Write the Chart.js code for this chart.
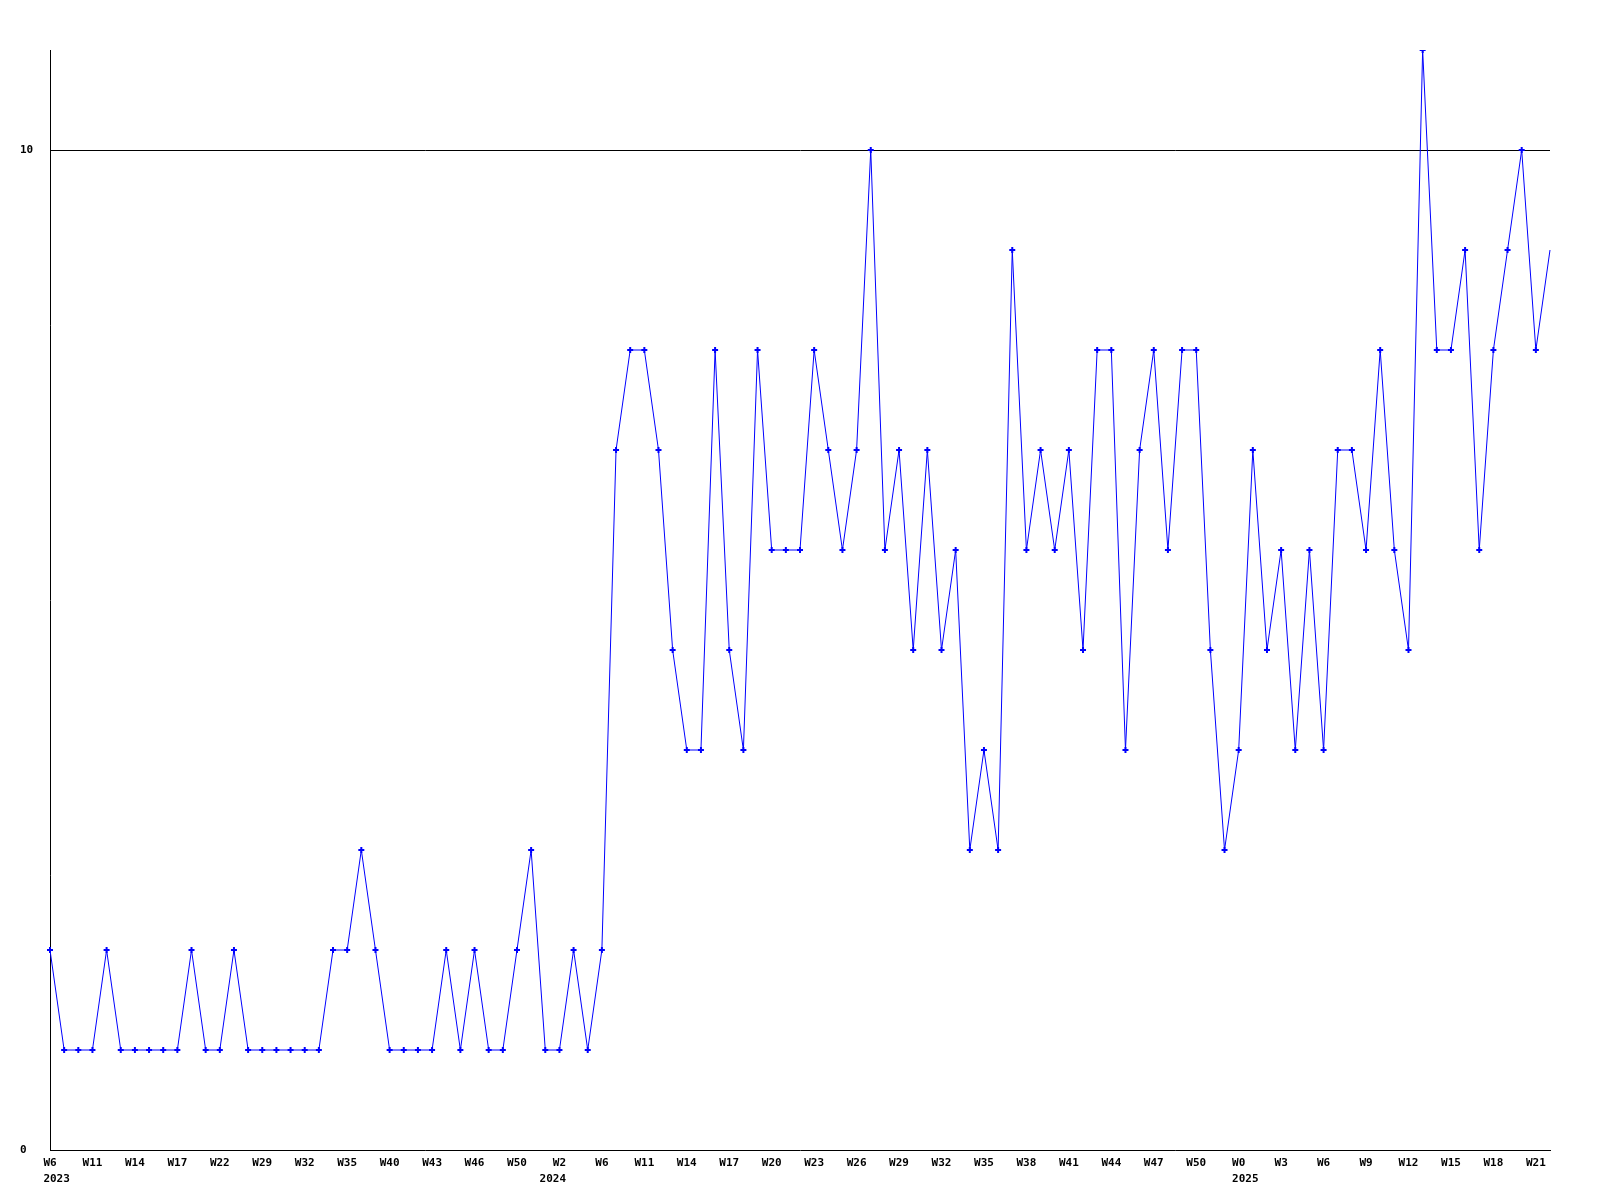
<!DOCTYPE html>
<html>
<head>
<meta charset="utf-8">
<style>
  html, body { margin: 0; padding: 0; background: #ffffff; }
  #wrap { width: 1600px; height: 1200px; }
</style>
<script src="https://cdn.jsdelivr.net/npm/chart.js@4/dist/chart.umd.min.js"></script>
</head>
<body>
<div id="wrap"><canvas id="c" width="1600" height="1200"></canvas></div>
<script>
// Weekly counts, one value per point (107 points)
const values = [
  2,1,1,1,2,1,1,1,1,1,
  2,1,1,2,1,1,1,1,1,1,
  2,2,3,2,1,1,1,1,2,1,
  2,1,1,2,3,1,1,2,1,2,
  7,8,8,7,5,4,4,8,5,4,
  8,6,6,6,8,7,6,7,10,6,
  7,5,7,5,6,3,4,3,9,6,
  7,6,7,5,8,8,4,7,8,6,
  8,8,5,3,4,7,5,6,4,6,
  4,7,7,6,8,6,5,11,8,8,
  9,6,8,9,10,8,9
];

// X tick labels, shown on every 3rd point
const weekTicks = ["W6","W11","W14","W17","W22","W29","W32","W35","W40","W43","W46","W50",
  "W2","W6","W11","W14","W17","W20","W23","W26","W29","W32","W35","W38","W41","W44","W47","W50",
  "W0","W3","W6","W9","W12","W15","W18","W21"];
const tickEvery = 3;
const years = ["2023","2024","2025"];
const yearTickIndex = [0, 12, 28];
const yearAlign = ["left", "right", "left"];

// Y tick values
const yTicks = [0, 10];
const yMax = 11;

const categories = values.map((v, i) => String(i));
const FONT = { family: "'DejaVu Sans Mono', monospace", size: 11, weight: 'bold', lineHeight: 16/11 };

// Year line starts at (left) or ends at (right) the week label's edge
function yearLine(week, year, align) {
  const extra = ' '.repeat(Math.max(0, year.length - week.length));
  return align === 'left' ? extra + year : year + extra;
}

new Chart(document.getElementById('c'), {
  type: 'line',
  data: {
    labels: categories,
    datasets: [{
      data: values,
      borderColor: '#0000ff',
      backgroundColor: '#0000ff',
      borderWidth: 1,
      pointStyle: 'cross',
      pointRadius: (ctx) => ctx.dataIndex === values.length - 1 ? 0 : 3,
      pointBorderWidth: 2,
      pointBorderColor: '#0000ff',
      pointHoverRadius: 3,
      tension: 0,
      fill: false
    }]
  },
  options: {
    responsive: false,
    animation: false,
    devicePixelRatio: 1,
    events: [],
    layout: { padding: { top: 50, right: 50, left: 20, bottom: 0 } },
    plugins: { legend: { display: false }, title: { display: false }, tooltip: { enabled: false } },
    scales: {
      x: {
        type: 'category',
        offset: false,
        grid: { display: false, drawTicks: false },
        border: { display: true, color: '#000000', width: 1 },
        afterFit: (s) => { s.height = 50; },
        ticks: {
          autoSkip: false,
          maxRotation: 0,
          minRotation: 0,
          padding: 5,
          color: '#000000',
          font: FONT,
          callback: function (val, idx) {
            if (idx % tickEvery !== 0) return null;
            const t = idx / tickEvery;
            if (t >= weekTicks.length) return null;
            const yi = yearTickIndex.indexOf(t);
            if (yi < 0) return weekTicks[t];
            return [weekTicks[t], yearLine(weekTicks[t], years[yi], yearAlign[yi])];
          }
        }
      },
      y: {
        min: 0,
        max: yMax,
        afterBuildTicks: (s) => { s.ticks = yTicks.map(v => ({ value: v })); },
        afterFit: (s) => { s.width = 30; },
        grid: {
          drawTicks: false,
          color: (ctx) => (ctx.tick && ctx.tick.value === 0) ? 'rgba(0,0,0,0)' : '#000000',
          lineWidth: 1
        },
        border: { display: true, color: '#000000', width: 1 },
        ticks: {
          crossAlign: 'far',
          padding: 0,
          color: '#000000',
          font: FONT,
          callback: (v) => String(v)
        }
      }
    }
  }
});
</script>
</body>
</html>
